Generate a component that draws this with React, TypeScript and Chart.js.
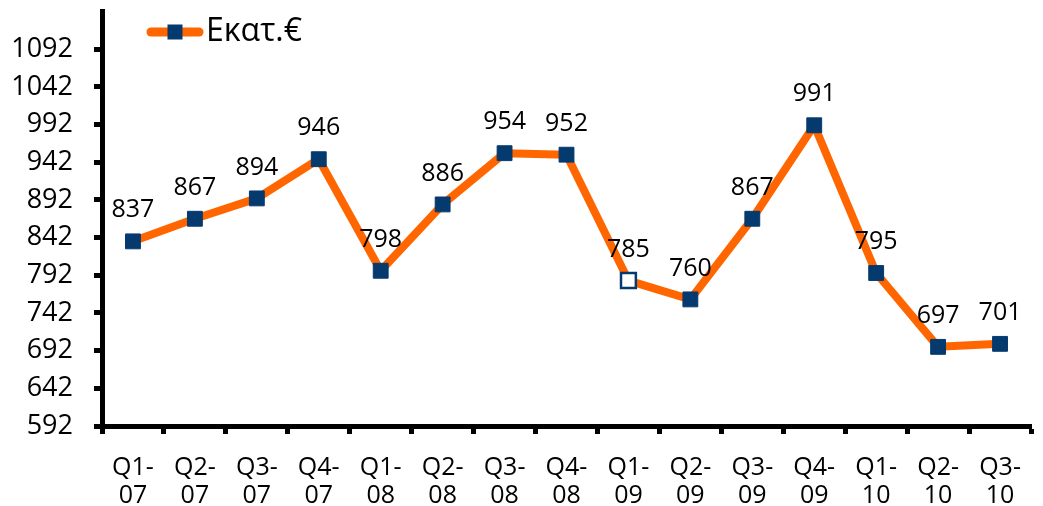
import React, { useEffect, useRef } from 'react';
import { Chart, registerables } from 'chart.js';

Chart.register(...registerables);

const categories: string[][] = [
  ['Q1-', '07'], ['Q2-', '07'], ['Q3-', '07'], ['Q4-', '07'],
  ['Q1-', '08'], ['Q2-', '08'], ['Q3-', '08'], ['Q4-', '08'],
  ['Q1-', '09'], ['Q2-', '09'], ['Q3-', '09'], ['Q4-', '09'],
  ['Q1-', '10'], ['Q2-', '10'], ['Q3-', '10'],
];
const values: number[] = [837, 867, 894, 946, 798, 886, 954, 952, 785, 760, 867, 991, 795, 697, 701];
const seriesLabel = 'Εκατ.€';
const yMin = 592;
const yMax = 1142;
const yStep = 50;
const hollowIndex = 8;

const ORANGE = '#FF6600';
const NAVY = '#053A6E';
const FONT = '"Open Sans", "Noto Sans", sans-serif';

const dataLabelPlugin = {
  id: 'dataLabels',
  afterDatasetsDraw(chart: any) {
    const { ctx } = chart;
    const meta = chart.getDatasetMeta(0);
    const data = chart.data.datasets[0].data as number[];
    ctx.save();
    ctx.font = `25px ${FONT}`;
    ctx.fillStyle = '#000';
    ctx.textAlign = 'center';
    ctx.textBaseline = 'middle';
    meta.data.forEach((pt: any, i: number) => {
      ctx.fillText(String(data[i]), pt.x, pt.y - 31);
    });
    ctx.restore();
  },
};

const legendPlugin = {
  id: 'customLegend',
  afterDraw(chart: any) {
    const { ctx, chartArea } = chart;
    const ds = chart.data.datasets[0];
    const cx = chartArea.left + 73;
    const cy = chartArea.top + 20.5;
    ctx.save();
    ctx.strokeStyle = ORANGE;
    ctx.lineWidth = 9;
    ctx.lineCap = 'round';
    ctx.beginPath();
    ctx.moveTo(cx - 24, cy);
    ctx.lineTo(cx + 24, cy);
    ctx.stroke();
    ctx.fillStyle = NAVY;
    ctx.fillRect(cx - 7.5, cy - 7.5, 15, 15);
    ctx.fillStyle = '#000';
    ctx.font = `32px ${FONT}`;
    ctx.textAlign = 'left';
    ctx.textBaseline = 'middle';
    ctx.fillText(ds.label, cx + 31, cy);
    ctx.restore();
  },
};

export default function App() {
  const ref = useRef<HTMLCanvasElement | null>(null);
  useEffect(() => {
    if (!ref.current) return;
    const chart = new Chart(ref.current, {
      type: 'line',
      data: {
        labels: categories,
        datasets: [
          {
            label: seriesLabel,
            data: values,
            borderColor: ORANGE,
            borderWidth: 8,
            borderJoinStyle: 'round',
            borderCapStyle: 'round',
            tension: 0,
            pointStyle: 'rect',
            pointRadius: 10.5,
            pointHoverRadius: 10.5,
            pointBackgroundColor: values.map((_, i) => (i === hollowIndex ? '#FFFFFF' : NAVY)),
            pointBorderColor: NAVY,
            pointBorderWidth: values.map((_, i) => (i === hollowIndex ? 2.5 : 1)),
          },
        ],
      },
      options: {
        animation: false,
        responsive: true,
        maintainAspectRatio: false,
        layout: { padding: { left: 0, right: 12, top: 7, bottom: 0 } },
        plugins: {
          legend: { display: false },
          tooltip: { enabled: false },
        },
        scales: {
          x: {
            type: 'category',
            offset: true,
            grid: {
              offset: true,
              drawOnChartArea: false,
              drawTicks: true,
              tickLength: 8,
              tickWidth: 5,
              tickColor: '#000',
            },
            border: { display: true, color: '#000', width: 5 },
            ticks: {
              color: '#000',
              font: { family: FONT, size: 25, lineHeight: 1.15 },
              maxRotation: 0,
              minRotation: 0,
              autoSkip: false,
              padding: 19,
            },
            afterFit: (scale: any) => {
              scale.height = 80;
              scale.paddingLeft = 0;
              scale.paddingRight = 0;
            },
          },
          y: {
            type: 'linear',
            min: yMin,
            max: yMax,
            grid: {
              drawOnChartArea: false,
              drawTicks: true,
              tickLength: 8,
              tickWidth: 5,
              tickColor: '#000',
            },
            border: { display: true, color: '#000', width: 5 },
            ticks: {
              stepSize: yStep,
              color: '#000',
              font: { family: FONT, size: 27 },
              padding: 21,
              callback: (v: any) => (Number(v) >= yMax ? null : String(v)),
            },
            afterFit: (scale: any) => {
              scale.width = 102;
              scale.paddingTop = 0;
              scale.paddingBottom = 0;
            },
          },
        },
      },
      plugins: [dataLabelPlugin, legendPlugin],
    });
    return () => chart.destroy();
  }, []);

  return (
    <div style={{ position: 'absolute', left: 0, top: 0, width: 1043, height: 506, background: '#fff' }}>
      <canvas ref={ref} />
    </div>
  );
}
